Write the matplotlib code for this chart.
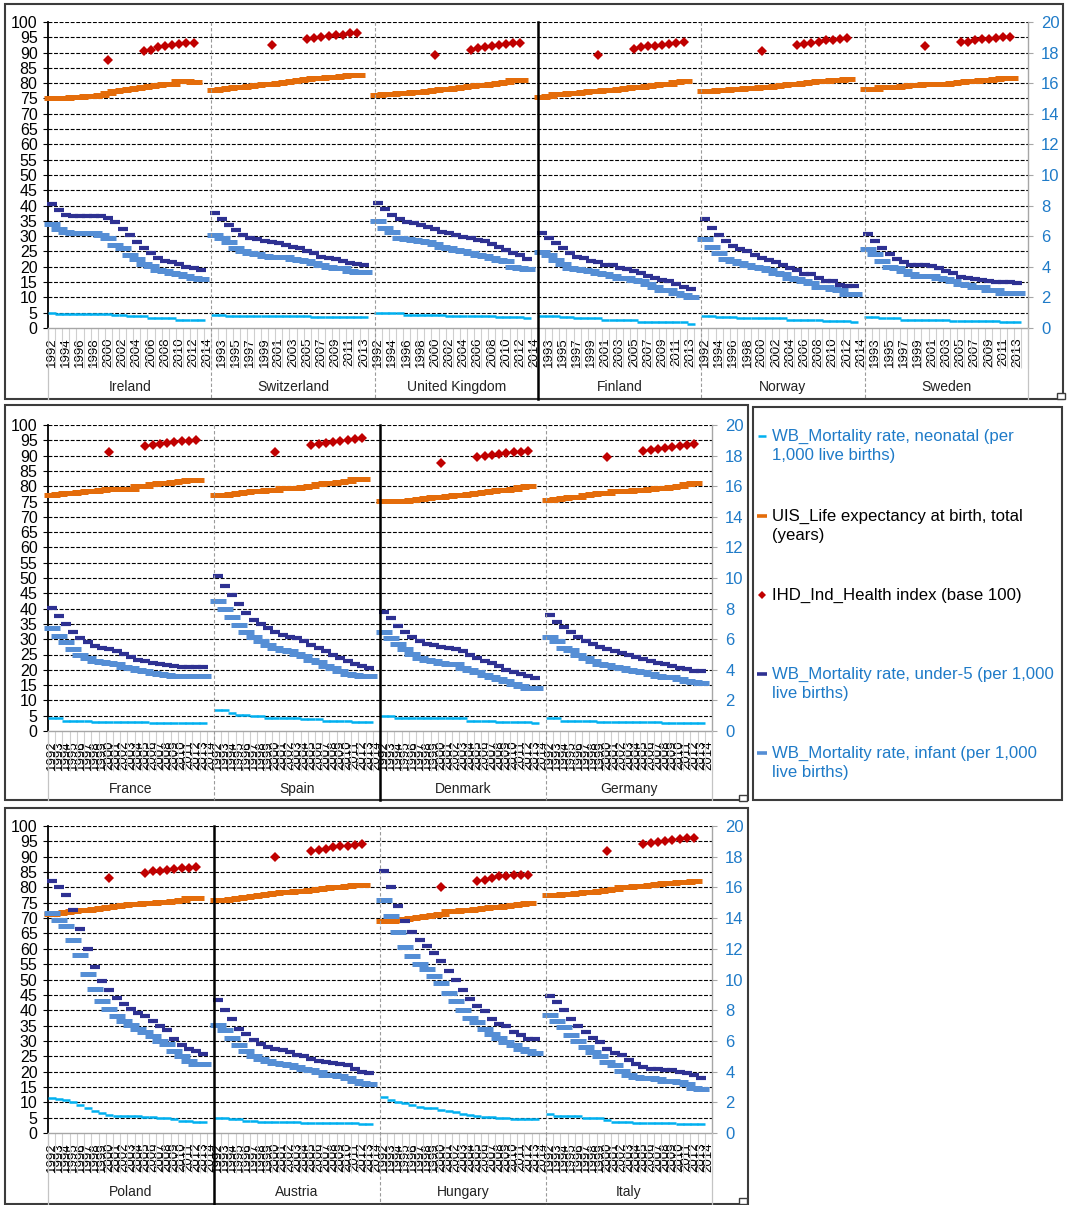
import numpy as np
import matplotlib
matplotlib.use("Agg")
import matplotlib.pyplot as plt
from matplotlib.lines import Line2D
from matplotlib.patches import Rectangle
import matplotlib.transforms as mtransforms

plt.rcParams['font.family'] = ['Liberation Sans', 'DejaVu Sans']

# ---------------------------------------------------------------- data
years = list(range(1992, 2015))          # category slots per country
health_years = [2000, 2005, 2006, 2007, 2008, 2009, 2010, 2011, 2012]

panels = [
    ["Ireland", "Switzerland", "United Kingdom", "Finland", "Norway", "Sweden"],
    ["France", "Spain", "Denmark", "Germany"],
    ["Poland", "Austria", "Hungary", "Italy"],
]
solid_rule_after = [3, 2, 1]   # group index preceded by a solid black rule

# WB neonatal mortality (per 1,000 live births), 1992-2013, left axis
neonatal = {
    "Ireland": [5.0] + [4.6] * 8 + [4.3] * 2 + [3.8] * 3 + [3.3] * 4 + [2.5] * 4,
    "Switzerland": [4.4] * 2 + [4.0] * 12 + [3.7] * 8,
    "United Kingdom": [4.9] * 4 + [4.4] * 6 + [4.0] * 7 + [3.7] * 4 + [3.2],
    "Finland": [3.9] * 3 + [3.6] * 2 + [3.2] * 4 + [2.5] * 5 + [2.1] * 4 + [1.8] * 3 + [1.2],
    "Norway": [4.0] * 2 + [3.7] * 3 + [3.3] * 7 + [2.7] * 5 + [2.3] * 4 + [1.9],
    "Sweden": [3.7] * 2 + [3.3] * 3 + [2.7] * 7 + [2.3] * 7 + [1.9] * 3,
    "France": [4.1] * 2 + [3.3] * 4 + [3.0] * 8 + [2.7] * 8,
    "Spain": [6.7, 6.7, 6.0, 5.2, 5.2, 4.8, 4.8, 4.4, 4.4, 4.4, 4.4, 4.4,
              4.0, 4.0, 4.0, 3.4, 3.4, 3.4, 3.4, 3.0, 3.0, 3.0],
    "Denmark": [4.9] * 2 + [4.4] * 2 + [4.1] * 8 + [3.3] * 4 + [2.9] * 5 + [2.7],
    "Germany": [4.1] * 2 + [3.3] * 5 + [3.0] * 9 + [2.7] * 6,
    "Poland": [11.3, 11.0, 10.6, 10.0, 9.0, 8.0, 7.2, 6.5, 5.9, 5.6, 5.6,
               5.4, 5.4, 5.1, 5.1, 4.9, 4.9, 4.5, 3.9, 3.9, 3.5, 3.5],
    "Austria": [4.8] * 2 + [4.5] * 2 + [3.9] * 2 + [3.6] * 6 + [3.2] * 8 + [2.8] * 2,
    "Hungary": [11.8, 10.7, 10.2, 9.9, 9.1, 8.6, 8.3, 8.1, 7.5, 7.2, 6.8,
                6.2, 5.9, 5.4, 5.2, 5.1, 4.9, 4.8, 4.5, 4.5, 4.5, 4.5],
    "Italy": [6.1, 5.7, 5.7, 5.4, 5.4, 4.8, 4.8, 4.8, 4.1, 3.7, 3.7, 3.7,
              3.2, 3.2, 3.2, 3.2, 3.2, 3.2, 2.8, 2.8, 2.8, 2.8],
}

# UIS life expectancy at birth (years), 1992-2012, left axis
life_exp = {
    "Ireland": [75.0, 75.2, 75.3, 75.5, 75.6, 75.8, 75.9, 76.3, 76.9, 77.5, 77.8,
                78.1, 78.3, 78.7, 79.0, 79.3, 79.6, 79.7, 80.7, 80.8, 80.5],
    "Switzerland": [77.7, 78.0, 78.5, 78.6, 78.9, 79.1, 79.4, 79.6, 79.8, 80.2, 80.4,
                    80.6, 81.1, 81.3, 81.6, 81.8, 82.0, 82.1, 82.3, 82.6, 82.7],
    "United Kingdom": [76.3, 76.4, 76.6, 76.7, 76.9, 77.1, 77.2, 77.4, 77.7, 78.0, 78.1,
                       78.4, 78.7, 79.0, 79.3, 79.5, 79.6, 80.1, 80.4, 80.9, 81.0],
    "Finland": [75.5, 75.8, 76.4, 76.5, 76.7, 76.9, 77.1, 77.3, 77.5, 77.8, 77.9,
                78.2, 78.4, 78.6, 78.9, 79.1, 79.3, 79.6, 79.9, 80.4, 80.6],
    "Norway": [77.4, 77.5, 77.7, 77.8, 78.0, 78.2, 78.3, 78.4, 78.7, 78.8, 79.0,
               79.4, 79.6, 79.9, 80.2, 80.4, 80.7, 80.8, 80.9, 81.2, 81.4],
    "Sweden": [78.0, 78.1, 78.6, 78.7, 78.9, 79.1, 79.3, 79.5, 79.6, 79.7, 79.8,
               79.9, 80.1, 80.5, 80.6, 80.8, 81.0, 81.2, 81.5, 81.6, 81.8],
    "France": [77.2, 77.4, 77.7, 77.8, 78.0, 78.3, 78.5, 78.8, 79.0, 79.1, 79.2,
               79.2, 80.2, 80.2, 80.8, 81.1, 81.2, 81.4, 81.7, 82.0, 81.9],
    "Spain": [77.0, 77.2, 77.6, 77.8, 78.0, 78.3, 78.3, 78.6, 78.9, 79.3, 79.5,
              79.5, 79.8, 80.2, 80.8, 80.9, 81.1, 81.5, 81.8, 82.3, 82.4],
    "Denmark": [75.2, 75.3, 75.2, 75.3, 75.6, 75.9, 76.1, 76.5, 76.6, 76.9, 77.0,
                77.2, 77.3, 77.8, 78.2, 78.4, 78.6, 78.8, 79.1, 79.8, 80.1],
    "Germany": [75.6, 75.8, 76.3, 76.4, 76.6, 77.1, 77.5, 77.7, 77.9, 78.3, 78.3,
                78.4, 78.7, 78.9, 79.1, 79.4, 79.5, 79.8, 80.0, 80.6, 81.0],
    "Poland": [71.3, 71.6, 71.9, 72.2, 72.5, 72.8, 73.0, 73.3, 73.6, 74.0, 74.3,
               74.6, 74.7, 74.9, 75.0, 75.1, 75.4, 75.7, 76.0, 76.4, 76.6],
    "Austria": [75.8, 76.0, 76.3, 76.6, 76.9, 77.3, 77.5, 77.8, 78.1, 78.5, 78.6,
                78.7, 78.8, 79.2, 79.6, 79.9, 80.2, 80.2, 80.3, 80.8, 80.9],
    "Hungary": [69.0, 69.2, 69.5, 69.8, 70.0, 70.3, 70.6, 70.9, 71.2, 72.3, 72.4,
                72.6, 72.8, 72.9, 73.2, 73.5, 73.7, 74.0, 74.3, 74.6, 75.0],
    "Italy": [77.4, 77.5, 77.9, 78.0, 78.3, 78.4, 78.6, 78.9, 79.2, 79.6, 80.0,
              80.1, 80.5, 80.6, 80.9, 81.2, 81.3, 81.5, 81.7, 81.8, 82.0],
}

# IHD health index (base 100) for health_years, left axis
health = {
    "Ireland": [87.6, 90.5, 91.0, 91.7, 92.1, 92.6, 92.9, 93.2, 93.3],
    "Switzerland": [92.6, 94.5, 94.8, 95.2, 95.5, 95.7, 95.9, 96.3, 96.4],
    "United Kingdom": [89.3, 91.0, 91.5, 91.8, 92.2, 92.5, 92.8, 93.1, 93.3],
    "Finland": [89.3, 91.3, 91.7, 92.0, 92.3, 92.5, 92.8, 93.1, 93.4],
    "Norway": [90.4, 92.4, 92.9, 93.3, 93.6, 94.1, 94.2, 94.5, 94.9],
    "Sweden": [92.2, 93.6, 93.6, 94.0, 94.5, 94.6, 94.8, 95.1, 95.2],
    "France": [91.2, 93.1, 93.4, 93.8, 94.1, 94.4, 94.7, 94.9, 95.1],
    "Spain": [91.2, 93.5, 93.8, 94.2, 94.6, 94.9, 95.2, 95.5, 95.8],
    "Denmark": [87.6, 89.4, 89.8, 90.2, 90.5, 90.8, 91.1, 91.3, 91.6],
    "Germany": [89.5, 91.4, 91.8, 92.2, 92.5, 92.8, 93.1, 93.5, 93.8],
    "Poland": [83.0, 84.8, 85.2, 85.5, 85.8, 86.1, 86.4, 86.4, 86.7],
    "Austria": [90.0, 92.0, 92.3, 92.6, 93.0, 93.4, 93.5, 93.9, 94.1],
    "Hungary": [80.0, 82.0, 82.4, 83.1, 83.6, 83.6, 83.9, 83.9, 84.2],
    "Italy": [91.8, 94.1, 94.5, 94.9, 95.1, 95.4, 95.8, 96.2, 96.1],
}

# WB under-5 mortality (per 1,000 live births), 1992-2013, right axis
under5 = {
    "Ireland": [8.1, 7.7, 7.4, 7.3, 7.3, 7.3, 7.3, 7.3, 7.2, 6.9, 6.5,
                6.1, 5.6, 5.2, 4.9, 4.6, 4.4, 4.3, 4.2, 4.0, 3.9, 3.8],
    "Switzerland": [7.5, 7.1, 6.7, 6.4, 6.1, 5.85, 5.8, 5.7, 5.6, 5.55, 5.45,
                    5.3, 5.2, 5.05, 4.9, 4.65, 4.6, 4.5, 4.4, 4.25, 4.2, 4.15],
    "United Kingdom": [8.15, 7.8, 7.4, 7.15, 6.9, 6.85, 6.7, 6.6, 6.5, 6.3, 6.2,
                       6.1, 5.95, 5.9, 5.75, 5.7, 5.5, 5.3, 5.1, 4.9, 4.8, 4.5],
    "Finland": [6.2, 5.9, 5.55, 5.2, 4.9, 4.65, 4.55, 4.4, 4.3, 4.15, 4.1,
                3.95, 3.85, 3.75, 3.6, 3.4, 3.25, 3.15, 3.05, 2.9, 2.65, 2.55],
    "Norway": [7.15, 6.55, 6.1, 5.7, 5.35, 5.15, 5.0, 4.8, 4.6, 4.45, 4.3,
               4.15, 3.9, 3.8, 3.55, 3.5, 3.3, 3.1, 3.1, 2.8, 2.75, 2.75],
    "Sweden": [6.15, 5.7, 5.2, 4.85, 4.5, 4.3, 4.15, 4.1, 4.1, 4.05, 3.95,
               3.7, 3.6, 3.35, 3.3, 3.2, 3.15, 3.1, 3.0, 3.0, 3.0, 2.95],
    "France": [8.05, 7.5, 7.0, 6.45, 6.1, 5.8, 5.55, 5.45, 5.35, 5.25, 5.05,
               4.85, 4.65, 4.55, 4.45, 4.35, 4.3, 4.25, 4.2, 4.2, 4.2, 4.2],
    "Spain": [10.1, 9.5, 8.9, 8.3, 7.7, 7.25, 7.0, 6.7, 6.45, 6.25, 6.15,
              6.05, 5.9, 5.65, 5.45, 5.2, 4.95, 4.8, 4.6, 4.4, 4.25, 4.15],
    "Denmark": [7.8, 7.4, 6.85, 6.45, 6.15, 5.9, 5.7, 5.6, 5.5, 5.45, 5.35,
                5.2, 5.0, 4.8, 4.6, 4.45, 4.25, 4.0, 3.85, 3.75, 3.6, 3.45],
    "Germany": [7.55, 7.15, 6.8, 6.45, 6.15, 5.85, 5.7, 5.5, 5.35, 5.2, 5.1,
                4.95, 4.85, 4.7, 4.6, 4.45, 4.35, 4.25, 4.15, 4.05, 3.95, 3.9],
    "Poland": [16.4, 16.0, 15.5, 14.5, 13.3, 12.0, 10.8, 9.9, 9.3, 8.8, 8.4,
               8.05, 7.8, 7.65, 7.3, 7.0, 6.7, 6.15, 5.75, 5.5, 5.35, 5.15],
    "Austria": [8.65, 8.0, 7.4, 6.8, 6.45, 6.05, 5.8, 5.6, 5.5, 5.4, 5.3,
                5.1, 5.0, 4.85, 4.7, 4.6, 4.55, 4.5, 4.4, 4.2, 4.0, 3.9],
    "Hungary": [17.1, 16.0, 14.8, 13.8, 13.1, 12.6, 12.15, 11.7, 11.2, 10.55, 9.95,
                9.3, 8.7, 8.3, 7.95, 7.45, 7.1, 6.95, 6.6, 6.4, 6.1, 6.1],
    "Italy": [8.95, 8.55, 8.0, 7.45, 7.0, 6.6, 6.2, 5.9, 5.45, 5.2, 5.1,
              4.75, 4.5, 4.3, 4.2, 4.15, 4.1, 4.1, 4.0, 3.9, 3.75, 3.6],
}

# WB infant mortality (per 1,000 live births), 1992-2013, right axis
infant = {
    "Ireland": [6.8, 6.5, 6.25, 6.2, 6.2, 6.2, 6.2, 6.1, 5.9, 5.45, 5.2,
                4.75, 4.5, 4.2, 4.05, 3.8, 3.7, 3.6, 3.5, 3.4, 3.3, 3.2],
    "Switzerland": [6.1, 5.85, 5.6, 5.25, 5.0, 4.9, 4.85, 4.7, 4.65, 4.65, 4.65,
                    4.5, 4.45, 4.35, 4.25, 4.15, 4.0, 3.95, 3.9, 3.75, 3.65, 3.65],
    "United Kingdom": [7.0, 6.55, 6.25, 5.9, 5.8, 5.75, 5.7, 5.6, 5.5, 5.3, 5.2,
                       5.1, 5.05, 4.9, 4.8, 4.7, 4.6, 4.45, 4.35, 4.0, 3.9, 3.85],
    "Finland": [4.95, 4.8, 4.45, 4.2, 3.9, 3.85, 3.8, 3.7, 3.6, 3.55, 3.4,
                3.3, 3.3, 3.15, 3.05, 2.85, 2.65, 2.5, 2.5, 2.3, 2.15, 2.05],
    "Norway": [5.8, 5.3, 4.9, 4.5, 4.4, 4.25, 4.15, 4.0, 3.9, 3.8, 3.6,
               3.5, 3.3, 3.2, 3.05, 2.95, 2.7, 2.65, 2.55, 2.5, 2.25, 2.25],
    "Sweden": [5.15, 4.85, 4.4, 4.0, 3.9, 3.7, 3.5, 3.4, 3.4, 3.4, 3.3,
               3.2, 3.1, 2.9, 2.8, 2.7, 2.65, 2.5, 2.5, 2.3, 2.3, 2.3],
    "France": [6.7, 6.2, 5.8, 5.35, 5.0, 4.8, 4.6, 4.5, 4.45, 4.4, 4.2,
               4.1, 4.0, 3.95, 3.8, 3.7, 3.65, 3.6, 3.6, 3.6, 3.6, 3.6],
    "Spain": [8.5, 8.0, 7.45, 6.95, 6.45, 6.15, 5.85, 5.6, 5.45, 5.3, 5.2,
              5.05, 4.9, 4.65, 4.5, 4.25, 4.1, 3.95, 3.75, 3.65, 3.6, 3.6],
    "Denmark": [6.5, 6.1, 5.7, 5.35, 5.05, 4.8, 4.65, 4.55, 4.45, 4.4, 4.4,
                4.15, 4.0, 3.85, 3.65, 3.5, 3.4, 3.25, 3.1, 2.95, 2.8, 2.8],
    "Germany": [6.15, 5.85, 5.45, 5.3, 5.0, 4.75, 4.55, 4.4, 4.3, 4.2, 4.1,
                4.0, 3.9, 3.85, 3.75, 3.6, 3.5, 3.5, 3.4, 3.3, 3.2, 3.15],
    "Poland": [14.3, 13.85, 13.5, 12.55, 11.6, 10.35, 9.35, 8.6, 8.05, 7.65, 7.3,
               7.05, 6.75, 6.6, 6.3, 6.0, 5.8, 5.35, 5.0, 4.7, 4.5, 4.5],
    "Austria": [7.05, 6.7, 6.2, 5.75, 5.35, 5.0, 4.8, 4.7, 4.55, 4.5, 4.4,
                4.3, 4.2, 4.1, 4.0, 3.8, 3.75, 3.7, 3.6, 3.4, 3.25, 3.2],
    "Hungary": [15.15, 14.15, 13.1, 12.1, 11.5, 11.0, 10.7, 10.2, 9.75, 9.1, 8.6,
                8.0, 7.5, 7.2, 6.8, 6.45, 6.2, 5.9, 5.75, 5.45, 5.35, 5.2],
    "Italy": [7.7, 7.3, 6.9, 6.4, 6.0, 5.6, 5.3, 5.0, 4.65, 4.4, 4.05,
              3.8, 3.65, 3.6, 3.6, 3.5, 3.4, 3.4, 3.3, 3.2, 2.95, 2.85],
}

# ---------------------------------------------------------------- style
C_NEO = "#00B0F0"
C_LIFE = "#E46C0A"
C_HEALTH = "#C00000"
C_U5 = "#2E3192"
C_INF = "#558ED5"
C_BLUE_TXT = "#1F7BC8"
C_GRID = "#000000"
C_SEP = "#9a9a9a"

W, H = 1073, 1205
fig = plt.figure(figsize=(W / 100, H / 100), dpi=100)
fig.patch.set_facecolor("white")


def fx(px):
    return px / W


def fy(py):
    return 1 - py / H


# plot boxes (left, right, top, bottom) and outer frames (x0, y0, x1, y1), pixels
plot_boxes = [(48, 1028, 22, 328), (48, 712, 425, 731), (48, 712, 826, 1133)]
frames = [(5, 4, 1063, 399), (5, 405, 748, 800), (5, 808, 748, 1204)]
name_rows = [387, 789, 1192]
label_every = [2, 1, 1]

for p, countries in enumerate(panels):
    l, r, t, b = plot_boxes[p]
    ax = fig.add_axes([fx(l), fy(b), (r - l) / W, (b - t) / H])
    ax2 = ax.twinx()
    n = len(countries) * len(years)
    ax.set_xlim(-0.5, n - 0.5)
    ax.set_ylim(0, 100)
    ax2.set_ylim(0, 20)
    ax.patch.set_alpha(0)

    # axes furniture
    for s in ("top", "right"):
        ax.spines[s].set_visible(False)
    for s in ("top", "left", "bottom"):
        ax2.spines[s].set_visible(False)
    ax.spines["left"].set_color("black")
    ax.spines["left"].set_linewidth(1.3)
    ax.spines["bottom"].set_color("#a6a6a6")
    ax.spines["bottom"].set_linewidth(1.0)
    ax2.spines["right"].set_color("#a6a6a6")
    ax2.spines["right"].set_linewidth(1.0)

    ax.set_yticks(range(0, 101, 5))
    ax.tick_params(axis="y", length=3.5, width=0.8, color="black", pad=4,
                   labelsize=11.5, labelcolor="black")
    ax2.set_yticks(range(0, 21, 2))
    ax2.tick_params(axis="y", length=3.5, width=0.8, color="#a6a6a6", pad=6,
                    labelsize=12, labelcolor=C_BLUE_TXT)

    for v in range(5, 101, 5):
        ax.axhline(v, color=C_GRID, lw=0.8, ls=(0, (3.5, 1.5)), zorder=0.5)

    # year labels and category ticks
    k = label_every[p]
    pos = [i for i in range(n) if i % k == 0]
    ax.set_xticks(pos)
    ax.set_xticklabels([str(years[i % len(years)]) for i in pos])
    ax.tick_params(axis="x", which="major", length=0, pad=6.5, labelsize=9.5,
                   labelrotation=90)
    ax.set_xticks(np.arange(-0.5, n, 1.0), minor=True)
    ax.tick_params(axis="x", which="minor", length=29, width=0.8, color="#cfcfcf")

    blend = mtransforms.blended_transform_factory(ax.transData, fig.transFigure)
    fb = frames[p][3]
    for g in range(len(countries) + 1):
        xb = g * len(years) - 0.5
        if g == solid_rule_after[p]:
            fig.add_artist(Line2D([xb, xb], [fy(t), fy(fb)], transform=blend,
                                  color="black", lw=1.8, zorder=6))
        elif g == 0 or g == len(countries):
            fig.add_artist(Line2D([xb, xb], [fy(b), fy(fb)], transform=blend,
                                  color="#c4c4c4", lw=0.9))
        else:
            fig.add_artist(Line2D([xb, xb], [fy(t), fy(fb)], transform=blend,
                                  color=C_SEP, lw=0.8, ls=(0, (3, 2))))

    for g, c in enumerate(countries):
        off = g * len(years)
        ax.text(off + (len(years) - 1) / 2, fy(name_rows[p]), c, transform=blend,
                ha="center", va="center", fontsize=10, color="#222222")

        xn = off + np.arange(len(neonatal[c]))
        ax.plot(xn, neonatal[c], ls="none", marker="_", ms=5.8, mew=1.8,
                color=C_NEO, clip_on=False, zorder=3)
        xl = off + np.arange(len(life_exp[c]))
        ax.plot(xl, life_exp[c], ls="none", marker="_", ms=11, mew=3.6,
                color=C_LIFE, clip_on=False, zorder=3)
        xh = [off + yr - years[0] for yr in health_years]
        ax.plot(xh, health[c], ls="none", marker="D", ms=5.4, mew=0,
                color=C_HEALTH, clip_on=False, zorder=4)

        xm = off + np.arange(len(infant[c]))
        ax2.plot(xm, infant[c], ls="none", marker="_", ms=11, mew=3.6,
                 color=C_INF, clip_on=False, zorder=3)
        ax2.plot(xm, under5[c], ls="none", marker="_", ms=7.3, mew=3.0,
                 color=C_U5, clip_on=False, zorder=4)

# frames
for (x0, y0, x1, y1) in frames + [(753, 407, 1062, 800)]:
    fig.add_artist(Rectangle((fx(x0), fy(y1)), (x1 - x0) / W, (y1 - y0) / H,
                             transform=fig.transFigure, fill=False,
                             ec="#3c3c3c", lw=1.5))
for (x0, y0) in [(1057, 393), (739, 795), (739, 1198)]:
    fig.add_artist(Rectangle((fx(x0), fy(y0 + 6)), 8 / W, 6 / H,
                             transform=fig.transFigure, fill=True,
                             fc="white", ec="#3c3c3c", lw=1.0))

# legend
legend_items = [
    ("_", C_NEO, 6, 1.8, ["WB_Mortality rate, neonatal (per", "1,000 live births)"], C_BLUE_TXT, 436),
    ("_", C_LIFE, 7, 2.6, ["UIS_Life expectancy at birth, total", "(years)"], "black", 516),
    ("D", C_HEALTH, 4, 0, ["IHD_Ind_Health index (base 100)"], "black", 595),
    ("_", C_U5, 7, 2.6, ["WB_Mortality rate, under-5 (per 1,000", "live births)"], C_BLUE_TXT, 674),
    ("_", C_INF, 7, 2.6, ["WB_Mortality rate, infant (per 1,000", "live births)"], C_BLUE_TXT, 753),
]
for mk, col, ms, mew, lines, tcol, y in legend_items:
    fig.add_artist(Line2D([fx(762)], [fy(y)], transform=fig.transFigure,
                          marker=mk, ms=ms, mew=mew, color=col, ls="none"))
    for j, txt in enumerate(lines):
        fig.text(fx(772), fy(y + 19.5 * j), txt, ha="left", va="center",
                 fontsize=12.1, color=tcol)

fig.savefig("out.png", dpi=100, facecolor="white")
